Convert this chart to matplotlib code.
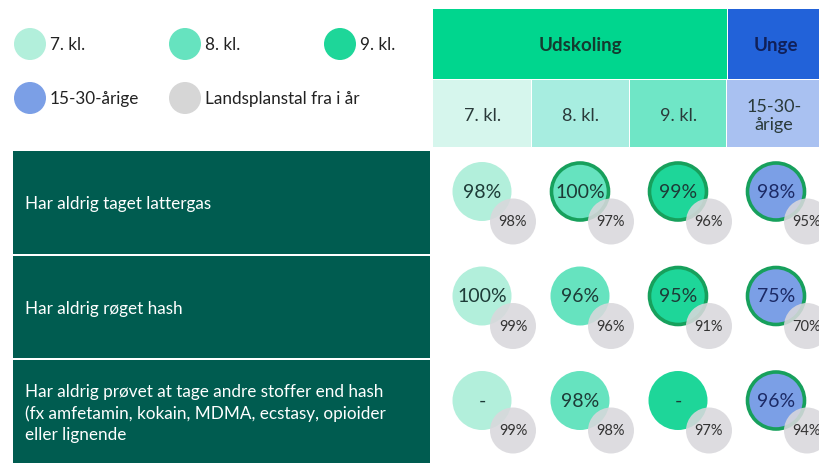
import matplotlib.pyplot as plt
from matplotlib.patches import Circle, Rectangle

plt.rcParams['font.family'] = ['Lato', 'DejaVu Sans']

# data
groups = ["7. kl.", "8. kl.", "9. kl.", "15-30-\nårige"]
questions = [
    "Har aldrig taget lattergas",
    "Har aldrig røget hash",
    "Har aldrig prøvet at tage andre stoffer end hash\n(fx amfetamin, kokain, MDMA, ecstasy, opioider\neller lignende",
]
local_vals = [
    ["98%", "100%", "99%", "98%"],
    ["100%", "96%", "95%", "75%"],
    ["-", "98%", "-", "96%"],
]
national_vals = [
    ["98%", "97%", "96%", "95%"],
    ["99%", "96%", "91%", "70%"],
    ["99%", "98%", "97%", "94%"],
]
highlight = [
    [False, True, True, True],
    [False, False, True, True],
    [False, False, False, True],
]
legend_labels = ["7. kl.", "8. kl.", "9. kl.", "15-30-årige", "Landsplanstal fra i år"]

circle_colors = ["#b2efdb", "#66e3bf", "#1ed699", "#7b9fe6"]
header_colors = ["#d6f6ed", "#a7ede0", "#6fe6c6", "#a9c1f1"]
legend_colors = circle_colors + ["#d6d6d6"]
grey = "#d9d8dc"
dark_green = "#005c50"
ring = "#17a05c"

fig = plt.figure(figsize=(8.2, 4.64), dpi=100)
ax = fig.add_axes([0, 0, 1, 1])
ax.set_xlim(0, 820)
ax.set_ylim(464, 0)
ax.axis('off')

# legend
leg_pos = [(30, 45), (185, 45), (340, 45), (30, 99), (185, 99)]
for (lx, ly), lab, col in zip(leg_pos, legend_labels, legend_colors):
    ax.add_patch(Circle((lx, ly), 16, color=col, lw=0))
    ax.text(lx + 20, ly, lab, ha='left', va='center', fontsize=12.3, color="#222222")

# header
col_x = [433, 532, 630, 727, 830]
ax.add_patch(Rectangle((433, 10), 294, 70, color="#00d68e", lw=0))
ax.add_patch(Rectangle((728, 10), 100, 70, color="#2262d9", lw=0))
ax.text(580, 45, "Udskoling", ha='center', va='center', fontsize=13.5, fontweight='bold', color="#143c30")
ax.text(776, 45, "Unge", ha='center', va='center', fontsize=13.5, fontweight='bold', color="#10205a")
for i, g in enumerate(groups):
    x0, x1 = col_x[i], col_x[i + 1]
    ax.add_patch(Rectangle((x0 + 0.5, 81), x1 - x0 - 1, 67, color=header_colors[i], lw=0))
    cx = (x0 + x1) / 2 if i < 3 else 774
    ax.text(cx, 116, g, ha='center', va='center', fontsize=13, color="#2a3a3a", linespacing=1.15)

# rows
row_y = [152, 257, 361, 466]
col_cx = [482, 580, 678, 776]
for r, q in enumerate(questions):
    y0, y1 = row_y[r], row_y[r + 1]
    ax.add_patch(Rectangle((13, y0), 417, y1 - y0 - 2, color=dark_green, lw=0))
    cy = (y0 + y1) / 2
    ax.text(25, cy, q, ha='left', va='center', fontsize=12.3, color="white", linespacing=1.4)
    for c in range(4):
        mx, my = col_cx[c], cy - 12
        if highlight[r][c]:
            ax.add_patch(Circle((mx, my), 28.5, facecolor=circle_colors[c], edgecolor=ring, lw=2.6, zorder=2))
        else:
            ax.add_patch(Circle((mx, my), 29.5, color=circle_colors[c], lw=0, zorder=2))
        tcol = "#1c2a66" if c == 3 else "#1d3b37"
        ax.text(mx, my, local_vals[r][c], ha='center', va='center', fontsize=14, color=tcol, zorder=3)
        gx, gy = mx + 31, cy + 18
        ax.add_patch(Circle((gx, gy), 23, color=grey, alpha=0.88, lw=0, zorder=4))
        ax.text(gx, gy, national_vals[r][c], ha='center', va='center', fontsize=10.5, color="#333333", zorder=5)

fig.savefig("out.png", dpi=100)
